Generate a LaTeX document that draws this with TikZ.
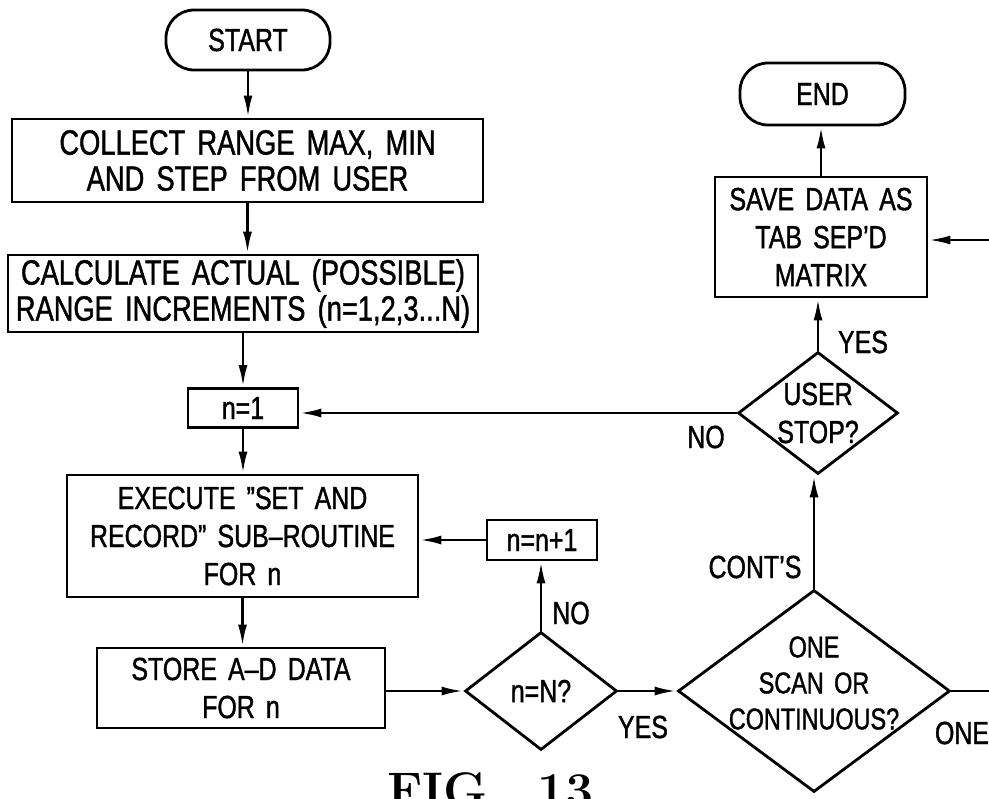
\documentclass[tikz,border=0pt]{standalone}
\usepackage{fontspec}
\newfontfamily\drafting[FakeStretch=0.78,WordSpace=1.6,FakeBold=1.2,Ligatures=TeX]{Liberation Sans}
\usetikzlibrary{shapes.geometric,arrows.meta}
\begin{document}
\begin{tikzpicture}[x=0.5pt,y=-0.5pt,
  every node/.style={font={\drafting\fontsize{16}{19}\selectfont}},
  bigtxt/.style={font={\drafting\fontsize{17.5}{18}\selectfont}},
  box/.style={draw,line width=1.4pt,rectangle,align=center,inner sep=0pt},
  term/.style={box,rounded corners=14pt},
  dia/.style={draw,line width=1.4pt,diamond,inner sep=0pt},
  arr/.style={line width=1.4pt,-{Latex[length=11pt,width=4.5pt]}},
  ln/.style={line width=1.4pt},
  lbl/.style={inner sep=0pt}]
\useasboundingbox (0,0) rectangle (989,798);
\clip (0,0) rectangle (989,798);

% nodes
\node[term, minimum width=82pt, minimum height=30pt] (start) at (248,40) {START};
\node[box, bigtxt, minimum width=235.5pt, minimum height=41.5pt] (collect) at (247.5,160.5) {COLLECT RANGE MAX, MIN\\AND STEP FROM USER};
\node[box, bigtxt, minimum width=235pt, minimum height=38.5pt] (calc) at (243,293.5) {CALCULATE ACTUAL (POSSIBLE)\\RANGE INCREMENTS (n=1,2,3...N)};
\node[box, minimum width=55pt, minimum height=19.5pt] (n1) at (243,408) {n=1};
\node[box, minimum width=175.5pt, minimum height=61pt] (exec) at (242.5,536) {EXECUTE ”SET AND\\RECORD” SUB–ROUTINE\\FOR n};
\node[box, minimum width=144pt, minimum height=40pt] (store) at (241,688) {STORE A–D DATA\\FOR n};
\node[box, minimum width=55pt, minimum height=20pt] (inc) at (542,540) {n=n+1};
\node[dia, minimum width=76pt, minimum height=59pt, label={center:n=N?}] (test) at (541,691) {};
\node[dia, minimum width=136pt, minimum height=101pt, label={[align=center,yshift=4pt,font={\drafting\fontsize{15}{18}\selectfont}]center:ONE\\SCAN OR\\CONTINUOUS?}] (mode) at (814,691) {};
\node[dia, minimum width=80pt, minimum height=61pt, label={[align=center]center:USER\\STOP?}] (stop) at (818,413) {};
\node[box, minimum width=106pt, minimum height=60pt] (save) at (821,237) {SAVE DATA AS\\TAB SEP'D\\MATRIX};
\node[term, minimum width=82.5pt, minimum height=31pt] (end) at (822.5,94) {END};

\coordinate (outone) at (989,691);
\coordinate (inret) at (989,240);

% connectors
\draw[arr] (start.south) -- (start.south |- collect.north);
\draw[arr] (collect.south) -- (collect.south |- calc.north);
\draw[arr] (calc.south) -- (calc.south |- n1.north);
\draw[arr] (n1.south) -- (n1.south |- exec.north);
\draw[arr] (exec.south) -- (exec.south |- store.north);
\draw[arr] (store.east |- test.west) -- (test.west);
\draw[arr] (test.north) -- (test.north |- inc.south);
\draw[arr] (inc.west) -- (inc.west -| exec.east);
\draw[arr] (test.east) -- (mode.west);
\draw[arr] (mode.north) -- (mode.north |- stop.south);
\draw[arr] (stop.west) -- (stop.west -| n1.east);
\draw[arr] (stop.north) -- (stop.north |- save.south);
\draw[arr] (save.north) -- (save.north |- end.south);
\draw[ln] (mode.east) -- (outone);
\draw[arr] (inret) -- (inret -| save.east);

% labels
\node[lbl] (lyes1) at (863,342) {YES};
\node[lbl] (lno1) at (706,437) {NO};
\node[lbl] (lcont) at (755,567) {CONT'S};
\node[lbl] (lno2) at (571,613) {NO};
\node[lbl] (lyes2) at (643,727) {YES};
\node[lbl] (lone) at (962,733) {ONE};

\node[anchor=base west, inner sep=0pt, font={\rmfamily\bfseries\fontsize{25}{25}\selectfont}] (fig) at (387,807) {FIG.\hspace{17pt}13};
\end{tikzpicture}
\end{document}
